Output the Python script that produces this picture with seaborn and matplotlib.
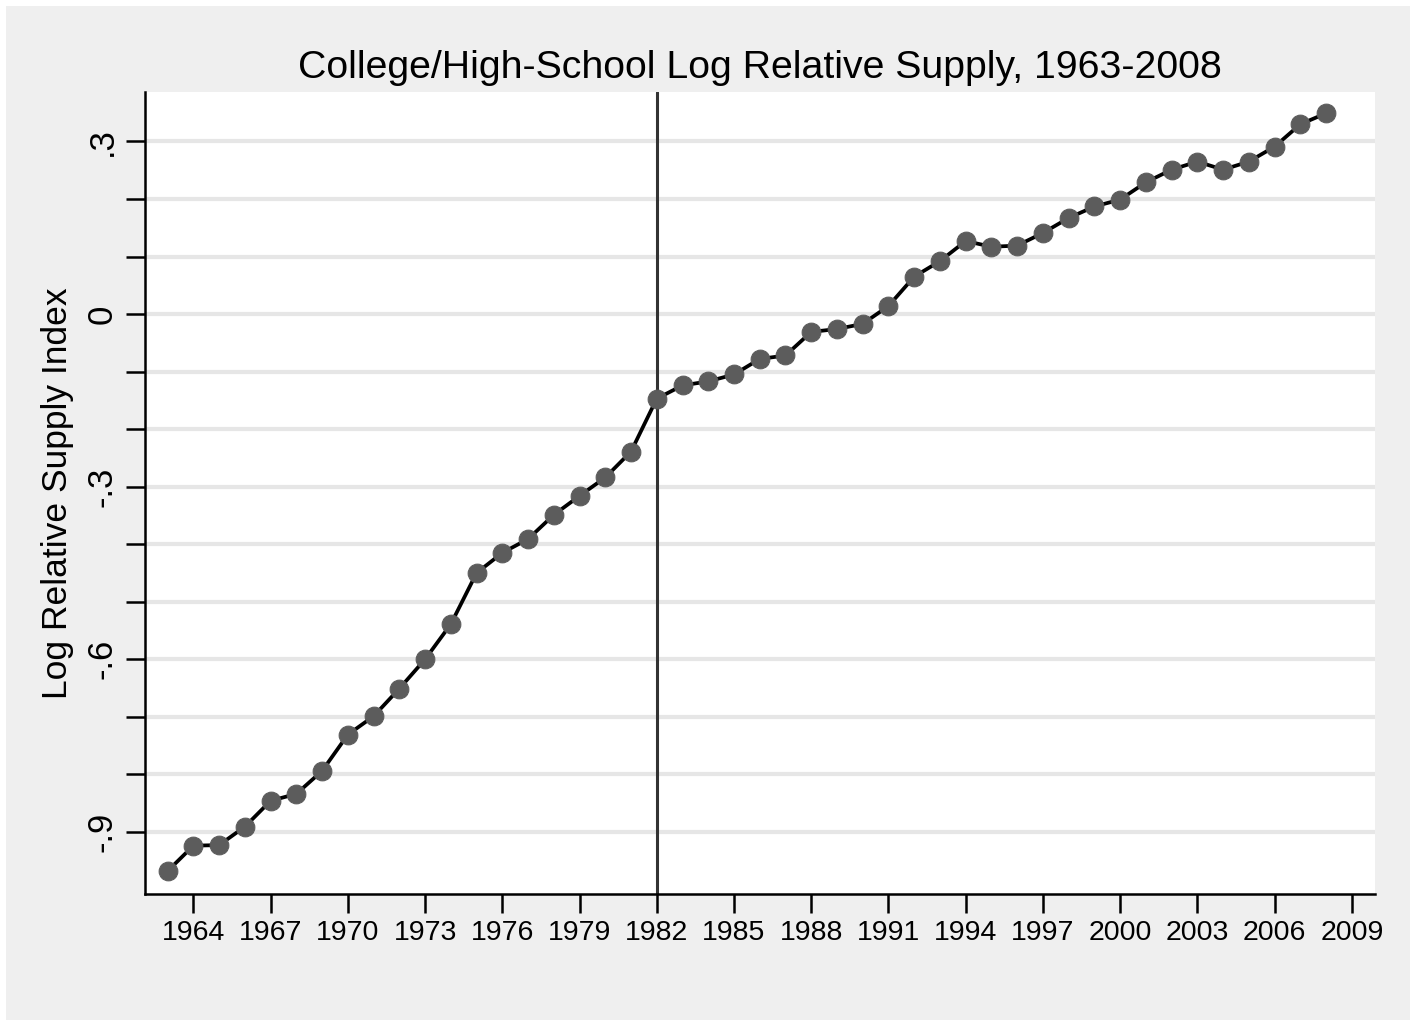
import matplotlib.pyplot as plt
import matplotlib.patches as mpatches
import pandas as pd
import seaborn as sns

years = list(range(1963, 2009))
supply = [
    -0.968, -0.924, -0.923, -0.891, -0.846, -0.834, -0.794, -0.731, -0.699, -0.651,
    -0.600, -0.539, -0.450, -0.415, -0.391, -0.349, -0.316, -0.284, -0.239, -0.147,
    -0.124, -0.117, -0.105, -0.078, -0.072, -0.031, -0.026, -0.017, 0.014, 0.065,
    0.092, 0.127, 0.117, 0.119, 0.141, 0.167, 0.187, 0.199, 0.229, 0.251,
    0.265, 0.251, 0.265, 0.291, 0.330, 0.349,
]
break_year = 1982
x_ticks = list(range(1964, 2010, 3))
y_ticks = [-0.9, -0.8, -0.7, -0.6, -0.5, -0.4, -0.3, -0.2, -0.1, 0.0, 0.1, 0.2, 0.3]
y_labels = {-0.9: "-.9", -0.6: "-.6", -0.3: "-.3", 0.0: "0", 0.3: ".3"}

df = pd.DataFrame({"year": years, "supply": supply})

sns.set_theme(style="white")
plt.rcParams["font.family"] = ["Liberation Sans", "DejaVu Sans"]
plt.rcParams["text.color"] = "black"
plt.rcParams["axes.labelcolor"] = "black"
plt.rcParams["xtick.color"] = "black"
plt.rcParams["ytick.color"] = "black"

fig = plt.figure(figsize=(14.15, 10.23), dpi=100)
fig.patch.set_facecolor("white")
# light gray graph region inside a thin white border
fig.patches.append(mpatches.Rectangle((6 / 1415, 3 / 1023), 1404 / 1415, 1014 / 1023,
                                      transform=fig.transFigure, facecolor="#efefef",
                                      edgecolor="none", zorder=-10))
ax = fig.add_axes([145 / 1415, 1 - 894 / 1023, 1230 / 1415, 802 / 1023])
ax.set_facecolor("white")

for y in y_ticks:
    ax.axhline(y, color="#e6e6e6", lw=3, zorder=0)
ax.axvline(break_year, color="#333333", lw=2.2, zorder=1)

sns.lineplot(data=df, x="year", y="supply", ax=ax, color="black", lw=2.7,
             marker="o", markersize=13.5, markerfacecolor="#5c5c5c",
             markeredgecolor="#5c5c5c", zorder=3)

ax.set_xlim(1962.12, 2009.9)
ax.set_ylim(-1.008, 0.386)
ax.set_xticks(x_ticks)
ax.set_xticklabels([str(t) for t in x_ticks], fontsize=20.5)
ax.set_yticks(y_ticks)
ax.set_yticklabels([y_labels.get(round(t, 1), "") for t in y_ticks], fontsize=25,
                   rotation=90, va="center")
ax.tick_params(axis="both", length=14, width=1.8, color="black", direction="out",
               left=True, bottom=True, pad=5)

for side in ["top", "right"]:
    ax.spines[side].set_visible(False)
for side in ["left", "bottom"]:
    ax.spines[side].set_color("black")
    ax.spines[side].set_linewidth(1.8)

ax.set_xlabel("")
ax.set_ylabel("Log Relative Supply Index", fontsize=25.5, labelpad=8)
ax.set_title("College/High-School Log Relative Supply, 1963-2008", fontsize=28.3, pad=10)

fig.savefig("out.png", dpi=100, facecolor=fig.get_facecolor())
